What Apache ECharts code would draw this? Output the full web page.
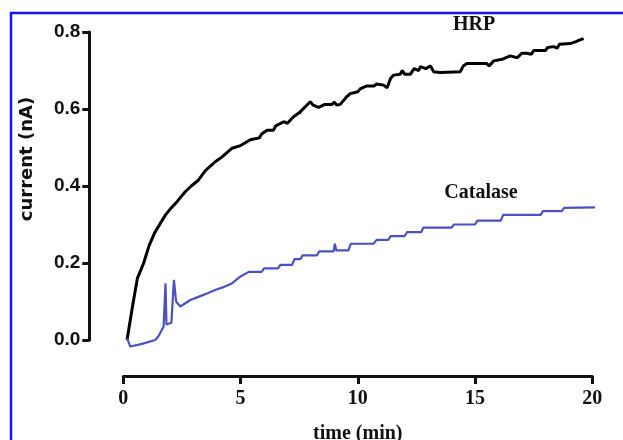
<!DOCTYPE html>
<html>
<head>
<meta charset="utf-8">
<script src="https://cdn.jsdelivr.net/npm/echarts@6/dist/echarts.min.js"></script>
<style>
	html,body{margin:0;padding:0;background:#fff;}
	#main{width:623px;height:440px;}
</style>
</head>
<body>
<div id="main"></div>
<script>
//HRP trace
var hrpTime = [0.16,0.4,0.6,0.87,1.1,1.35,1.65,1.8,2.0,2.3,2.64,2.9,3.2,3.5,3.92,4.2,4.63,5.0,5.42,5.8,5.9,6.13,6.4,6.5,6.84,7.0,7.26,7.5,7.97,8.1,8.33,8.6,8.9,9.0,9.1,9.25,9.5,9.68,10.0,10.1,10.39,10.7,10.8,11.1,11.25,11.4,11.53,11.8,11.9,12.0,12.24,12.4,12.6,12.67,12.9,13.1,13.23,13.5,14.37,14.5,14.65,15.5,15.6,15.8,16.2,16.5,16.8,17.0,17.2,17.4,17.5,18.0,18.1,18.35,18.5,18.6,19.06,19.3,19.5,19.63]
var hrpCurrent = [0.0,0.09,0.16,0.2,0.245,0.28,0.31,0.325,0.34,0.36,0.385,0.4,0.415,0.44,0.463,0.475,0.498,0.505,0.52,0.525,0.535,0.545,0.545,0.556,0.567,0.563,0.58,0.59,0.619,0.61,0.604,0.612,0.612,0.618,0.61,0.612,0.63,0.64,0.645,0.652,0.66,0.66,0.665,0.662,0.655,0.68,0.688,0.69,0.7,0.69,0.69,0.705,0.7,0.71,0.705,0.712,0.697,0.695,0.697,0.712,0.718,0.718,0.712,0.725,0.73,0.738,0.733,0.745,0.745,0.742,0.752,0.752,0.76,0.762,0.758,0.768,0.77,0.775,0.78,0.783]
//Catalase trace
var catTime = [0.16,0.3,0.8,1.36,1.5,1.72,1.8,1.84,2.05,2.16,2.25,2.43,2.86,3.2,3.57,3.92,4.3,4.63,5.0,5.35,5.9,6.0,6.6,6.7,7.2,7.3,7.55,7.65,8.26,8.35,8.97,9.02,9.08,9.6,9.7,10.67,10.8,11.3,11.4,12.0,12.1,12.7,12.8,14.0,14.1,15.0,15.1,16.1,16.2,17.8,17.9,18.7,18.8,20.6]
var catCurrent = [0.004,-0.017,-0.01,0.0,0.01,0.035,0.147,0.04,0.045,0.156,0.1,0.087,0.104,0.112,0.121,0.13,0.138,0.147,0.165,0.177,0.177,0.186,0.186,0.195,0.195,0.21,0.21,0.22,0.22,0.23,0.23,0.25,0.233,0.233,0.25,0.25,0.26,0.26,0.27,0.27,0.28,0.28,0.292,0.292,0.3,0.3,0.31,0.31,0.325,0.325,0.335,0.335,0.343,0.345]
var xTicks = [0,5,10,15,20]
var yTicks = [0.0,0.2,0.4,0.6,0.8]

function pairs(t,v){
	var out = []
	for(var i=0;i<t.length;i++){
		out.push([t[i],v[i]])
	}
	return out
}

var chart = echarts.init(document.getElementById('main'));
var serif = '"Liberation Serif","Times New Roman",serif'
var sans = '"Liberation Sans",Arial,sans-serif'

option = {
	backgroundColor:'#fff',
	animation:false,
	grid:{left:123.3,right:30.7,top:32,bottom:100,outerBoundsMode:'none',containLabel:false},
	xAxis:{
		type:'value',
		min:xTicks[0],
		max:xTicks[xTicks.length-1],
		interval:5,
		offset:36,
		axisLine:{onZero:false,lineStyle:{color:'#111',width:3}},
		axisTick:{length:8,lineStyle:{color:'#111',width:3}},
		axisLabel:{color:'#111',fontFamily:serif,fontWeight:'bold',fontSize:20,margin:13},
		splitLine:{show:false},
		name:'time (min)',
		nameLocation:'middle',
		nameGap:48,
		nameTextStyle:{color:'#111',fontFamily:serif,fontWeight:'bold',fontSize:20}
	},
	yAxis:{
		type:'value',
		min:yTicks[0],
		max:yTicks[yTicks.length-1],
		interval:0.2,
		offset:34,
		axisLine:{show:true,onZero:false,lineStyle:{color:'#111',width:3}},
		axisTick:{show:true,length:7,lineStyle:{color:'#111',width:3}},
		axisLabel:{color:'#111',fontFamily:sans,fontWeight:'bold',fontSize:19,margin:9,
			formatter:function(v){return v.toFixed(1)}},
		splitLine:{show:false}
	},
	graphic:[
		{type:'polyline',shape:{points:[[11,700],[11,13],[640,13]]},style:{fill:null,stroke:'#1414f0',lineWidth:2.5},silent:true},
		{type:'text',x:27,y:159,rotation:Math.PI/2,style:{text:'current (nA)',fill:'#111',font:'bold 18px "DejaVu Sans",sans-serif',align:'center',verticalAlign:'middle'}},
		{type:'text',x:474,y:25,style:{text:'HRP',fill:'#111',font:'bold 20px "Liberation Serif",serif',align:'center',verticalAlign:'middle'}},
		{type:'text',x:481,y:193,style:{text:'Catalase',fill:'#111',font:'bold 20px "Liberation Serif",serif',align:'center',verticalAlign:'middle'}}
	],
	series:[
		{
			name:'HRP',
			type:'line',
			data:pairs(hrpTime,hrpCurrent),
			showSymbol:false,
			clip:false,
			lineStyle:{color:'#000',width:3}
		},
		{
			name:'Catalase',
			type:'line',
			data:pairs(catTime,catCurrent),
			showSymbol:false,
			clip:false,
			lineStyle:{color:'#4b50c2',width:2.2}
		}
	]
};
chart.setOption(option);
</script>
</body>
</html>
